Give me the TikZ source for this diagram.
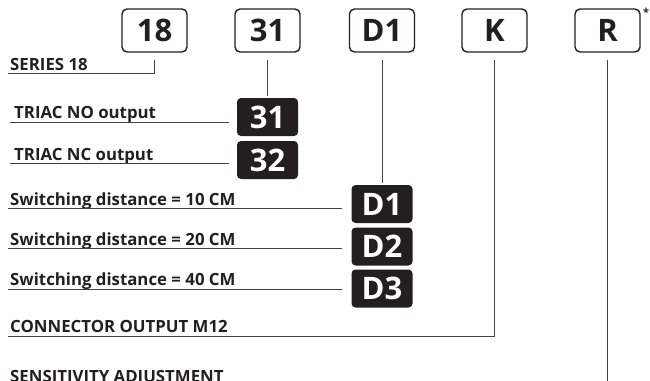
\documentclass[tikz,border=0pt]{standalone}
\usepackage{fontspec}
\setmainfont{Open Sans}
\usetikzlibrary{positioning}
\definecolor{ink}{RGB}{35,31,32}

\begin{document}
\begin{tikzpicture}[x=1pt, y=-1pt, font=\bfseries\fontsize{16.8}{19}\selectfont, text=ink,
  codebox/.style={draw=ink, line width=1.4pt, rounded corners=5pt, minimum width=65pt,
    minimum height=43pt, inner sep=0pt, font=\bfseries\fontsize{31}{34}\selectfont},
  optbox/.style={fill=ink, text=white, rounded corners=4pt, minimum width=61pt,
    minimum height=38pt, inner sep=0pt, font=\bfseries\fontsize{31}{34}\selectfont},
  lbl/.style={anchor=base west, inner sep=0pt},
  lead/.style={draw=ink!85, line width=0.9pt}]
  \useasboundingbox (0,0) rectangle (650,380);
  \clip (0,0) rectangle (650,380);
  % code boxes
  \foreach \c/\x in {18/154.5, 31/267.5, D1/382, K/494.5, R/607.5}
    \node[codebox] (c\c) at (\x,30.5) {\c};
  \node[anchor=north west, inner sep=0pt, font=\bfseries\fontsize{11}{11}\selectfont] (star) at (643,8) {*};
  % option boxes
  \node[optbox] (o31) at (267.5,117) {31};
  \node[optbox] (o32) at (267.5,160) {32};
  \node[optbox] (oD1) at (382,204) {D1};
  \node[optbox] (oD2) at (382,246.5) {D2};
  \node[optbox] (oD3) at (382,288.5) {D3};
  % labels
  \node[lbl] (lser) at (10,70) {SERIES 18};
  \node[lbl] (lno) at (14,118) {TRIAC NO output};
  \node[lbl] (lnc) at (14,160) {TRIAC NC output};
  \node[lbl] (ld1) at (10,205) {Switching distance = 10 CM};
  \node[lbl] (ld2) at (10,245) {Switching distance = 20 CM};
  \node[lbl] (ld3) at (10,285) {Switching distance = 40 CM};
  \node[lbl] (lm12) at (10,332) {CONNECTOR OUTPUT M12};
  \node[lbl] (lsens) at (10,382) {SENSITIVITY ADJUSTMENT};
  % leaders
  \coordinate (u18) at (8,73);
  \coordinate (u31) at (10,122);
  \coordinate (u32) at (10,163);
  \coordinate (uD1) at (8,208);
  \coordinate (uD2) at (8,248);
  \coordinate (uD3) at (8,289);
  \coordinate (uK) at (8,336);
  \coordinate (endR) at (607.5,390);
  \draw[lead] ([yshift=-7pt]c18.south) |- (u18);
  \draw[lead, shorten >=2pt] ([yshift=-7pt]c31.south) -- (o31.north);
  \draw[lead, shorten >=8pt] (u31) -- (u31 -| o31.west);
  \draw[lead, shorten >=8pt] (u32) -- (u32 -| o32.west);
  \draw[lead, shorten >=2pt] ([yshift=-7pt]cD1.south) -- (oD1.north);
  \foreach \d in {D1,D2,D3}
    \draw[lead, shorten >=9pt] (u\d) -- (u\d -| o\d.west);
  \draw[lead] ([yshift=-7pt]cK.south) |- (uK);
  \draw[lead] ([yshift=-7pt]cR.south) -- (endR);
\end{tikzpicture}
\end{document}
